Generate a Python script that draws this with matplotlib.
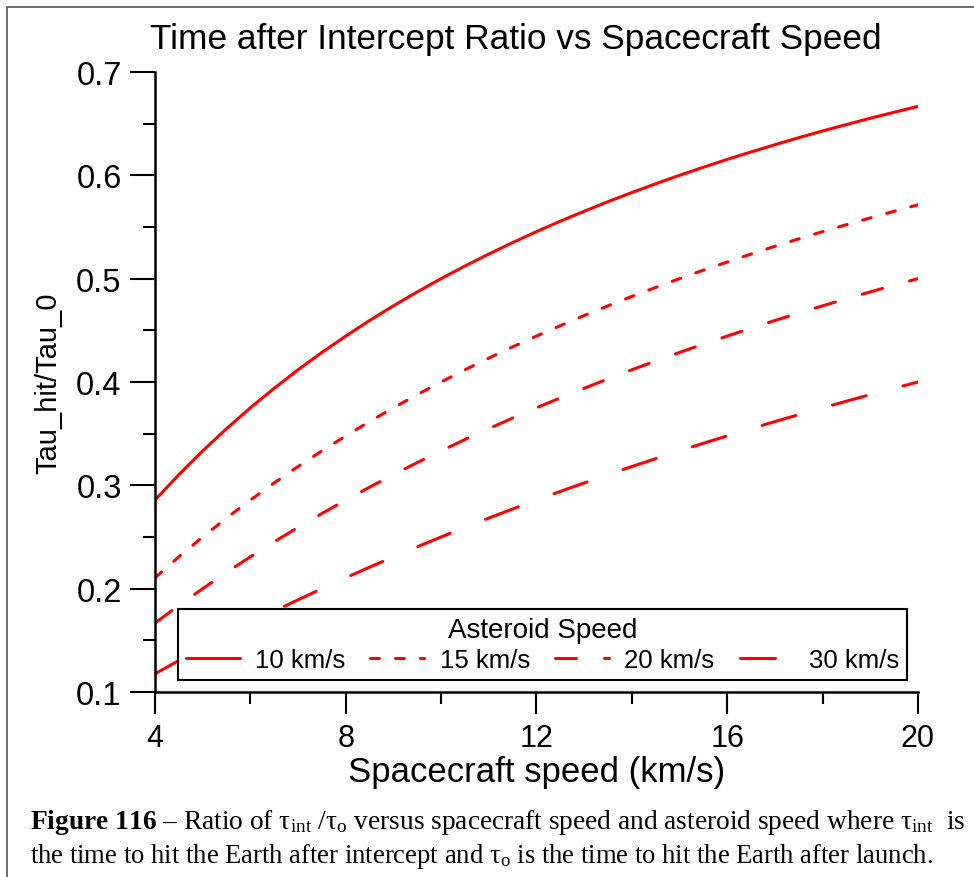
import matplotlib
matplotlib.use('Agg')
import matplotlib.pyplot as plt
from matplotlib.patches import Rectangle
from matplotlib.ticker import MultipleLocator

plt.rcParams['font.family'] = ['Liberation Sans', 'DejaVu Sans']
plt.rcParams['lines.scale_dashes'] = False
plt.rcParams['mathtext.fontset'] = 'custom'
plt.rcParams['mathtext.rm'] = 'Liberation Serif'
plt.rcParams['mathtext.it'] = 'Liberation Serif'
plt.rcParams['mathtext.bf'] = 'Liberation Serif:bold'

# spacecraft speed (km/s)
speed = [4, 4.5, 5, 5.5, 6, 6.5, 7, 7.5, 8, 8.5, 9, 9.5, 10, 10.5, 11, 11.5, 12,
         12.5, 13, 13.5, 14, 14.5, 15, 15.5, 16, 16.5, 17, 17.5, 18, 18.5, 19, 19.5, 20]

# Tau_hit/Tau_0 for each asteroid speed
ratio_10 = [0.2857, 0.3103, 0.3333, 0.3548, 0.3750, 0.3939, 0.4118, 0.4286, 0.4444,
            0.4595, 0.4737, 0.4872, 0.5000, 0.5122, 0.5238, 0.5349, 0.5455, 0.5556,
            0.5652, 0.5745, 0.5833, 0.5918, 0.6000, 0.6078, 0.6154, 0.6226, 0.6296,
            0.6364, 0.6429, 0.6491, 0.6552, 0.6610, 0.6667]
ratio_15 = [0.2105, 0.2308, 0.2500, 0.2683, 0.2857, 0.3023, 0.3182, 0.3333, 0.3478,
            0.3617, 0.3750, 0.3878, 0.4000, 0.4118, 0.4231, 0.4340, 0.4444, 0.4545,
            0.4643, 0.4737, 0.4828, 0.4915, 0.5000, 0.5082, 0.5161, 0.5238, 0.5313,
            0.5385, 0.5455, 0.5522, 0.5588, 0.5652, 0.5714]
ratio_20 = [0.1667, 0.1837, 0.2000, 0.2157, 0.2308, 0.2453, 0.2593, 0.2727, 0.2857,
            0.2982, 0.3103, 0.3220, 0.3333, 0.3443, 0.3548, 0.3651, 0.3750, 0.3846,
            0.3939, 0.4030, 0.4118, 0.4203, 0.4286, 0.4366, 0.4444, 0.4521, 0.4595,
            0.4667, 0.4737, 0.4805, 0.4872, 0.4937, 0.5000]
ratio_30 = [0.1176, 0.1304, 0.1429, 0.1549, 0.1667, 0.1781, 0.1892, 0.2000, 0.2105,
            0.2208, 0.2308, 0.2405, 0.2500, 0.2593, 0.2683, 0.2771, 0.2857, 0.2941,
            0.3023, 0.3103, 0.3182, 0.3258, 0.3333, 0.3407, 0.3478, 0.3548, 0.3617,
            0.3684, 0.3750, 0.3814, 0.3878, 0.3939, 0.4000]

labels = ['10 km/s', '15 km/s', '20 km/s', '30 km/s']
styles = ['-', (0, (6.4, 11.6)), (0, (15.1, 20.2)), (0, (25.2, 27.4))]

fig = plt.figure(figsize=(9.74, 8.78), dpi=100)
ax = fig.add_axes([0.1591, 0.2107, 0.7834, 0.7062])

handles = []
for ys, ls, lab in zip([ratio_10, ratio_15, ratio_20, ratio_30], styles, labels):
    ln, = ax.plot(speed, ys, color='#ff0000', lw=2.2, linestyle=ls,
                  dash_capstyle='round', solid_capstyle='round', label=lab)
    handles.append(ln)

ax.set_xlim(4, 20)
ax.set_ylim(0.1, 0.7)
ax.xaxis.set_major_locator(MultipleLocator(4))
ax.xaxis.set_minor_locator(MultipleLocator(2))
ax.yaxis.set_minor_locator(MultipleLocator(0.05))
ax.set_yticks([0.1, 0.2, 0.3, 0.4, 0.5, 0.6, 0.7])
ax.set_yticklabels(['0.1', '0.2', '0.3', '0.4', '0.5', '0.6', '0.7'])

for s in ['top', 'right']:
    ax.spines[s].set_visible(False)
for s in ['left', 'bottom']:
    ax.spines[s].set_linewidth(1.8)

ax.tick_params(which='major', direction='out', length=16, width=1.5,
               labelsize=22, pad=6)
ax.tick_params(axis='y', which='major', length=18, labelsize=23.5)
ax.tick_params(which='minor', direction='out', length=8.5, width=1.5)

fig.text(516 / 974, 1 - 40 / 878, 'Time after Intercept Ratio vs Spacecraft Speed',
         fontsize=25.4, ha='center', va='center')
ax.set_xlabel('Spacecraft speed (km/s)', fontsize=25, labelpad=2)
ax.set_ylabel('Tau_hit/Tau_0', fontsize=21, labelpad=10)

leg = ax.legend(handles=handles, labels=labels, ncol=4, title='Asteroid Speed',
                loc='lower left', bbox_to_anchor=(0.030, 0.0194, 0.9556, 0.1112),
                mode='expand', borderaxespad=0, fontsize=18.5, title_fontsize=20,
                handlelength=2.1, handletextpad=0.6, fancybox=False,
                frameon=True, borderpad=0.3, labelspacing=0.2)
leg.get_frame().set_edgecolor('black')
leg.get_frame().set_linewidth(1.5)
leg.get_frame().set_alpha(1)

# caption under the chart
fig.text(0.031, 0.063,
         r'$\mathbf{Figure\ 116}$ – Ratio of $\mathrm{\tau_{int}}$ /$\mathrm{\tau_{o}}$ versus spacecraft speed'
         r' and asteroid speed where $\mathrm{\tau_{int}}$  is',
         fontsize=19.7, family='Liberation Serif', ha='left', va='center')
fig.text(0.031, 0.024,
         r'the time to hit the Earth after intercept and $\mathrm{\tau_{o}}$ is the time to hit the Earth after launch.',
         fontsize=19.2, family='Liberation Serif', ha='left', va='center')

# page border
fig.patches.append(Rectangle((0.007, -0.1), 1.2, 1.1 - 8 / 878, transform=fig.transFigure,
                             fill=False, edgecolor='#555555', linewidth=1.2))

fig.savefig('out.png', dpi=100)
